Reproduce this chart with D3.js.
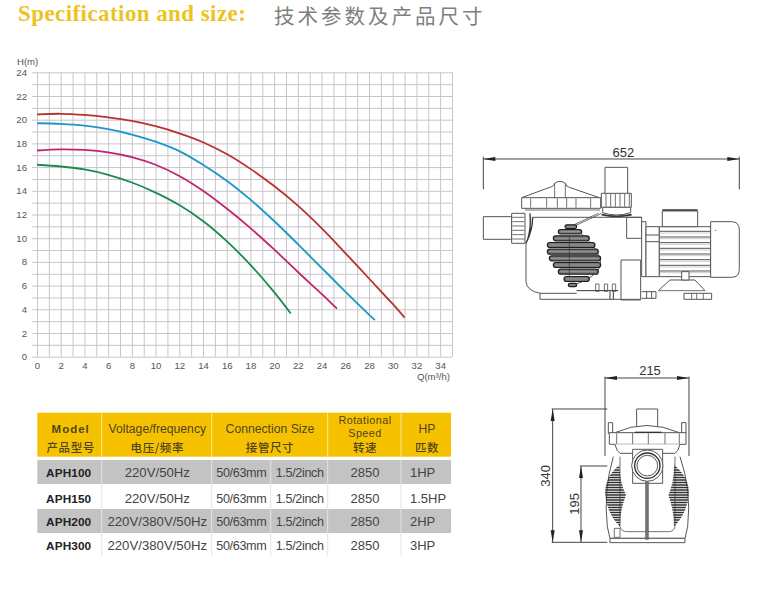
<!DOCTYPE html>
<html><head><meta charset="utf-8">
<script src="https://cdn.jsdelivr.net/npm/d3@7/dist/d3.min.js"></script>
<style>
html,body{margin:0;padding:0;background:#fff}
svg{display:block}
text{font-family:"Liberation Sans",Arial,sans-serif}
</style></head><body>
<svg id="c" width="780" height="590"></svg>
<script>
// ---------- DATA ----------
const titleEn = "Specification and size:";
const titleCn = "技术参数及产品尺寸";
const flowRed = [0,2,4,6,8,10,12,14,16,18,20,22,24,26,28,30,31];
const headRed = [20.45,20.5,20.4,20.2,19.9,19.45,18.85,18.1,17.1,15.85,14.4,12.75,10.85,8.75,6.6,4.45,3.3];
const flowBlue = [0,2,4,6,8,10,12,14,16,18,20,22,24,26,28,28.5];
const headBlue = [19.7,19.65,19.5,19.2,18.75,18.15,17.35,16.2,14.85,13.25,11.45,9.5,7.5,5.5,3.55,3.08];
const flowMagenta = [0,2,4,6,8,10,12,14,16,18,20,22,24,25.3];
const headMagenta = [17.4,17.5,17.45,17.25,16.85,16.2,15.25,14.0,12.5,10.85,9.05,7.15,5.3,4.05];
const flowGreen = [0,2,4,6,8,10,12,14,16,18,20,21.4];
const headGreen = [16.2,16.05,15.8,15.35,14.7,13.85,12.8,11.45,9.75,7.75,5.45,3.65];
const xTicks = d3.range(0,36);
const yTicks = d3.range(0,25);
const headerEn = [["Model"],["Voltage/frequency"],["Connection Size"],["Rotational","Speed"],["HP"]];
const headerCn = ["产品型号","电压/频率","接管尺寸","转速","匹数"];
const models = ["APH100","APH150","APH200","APH300"];
const voltages = ["220V/50Hz","220V/50Hz","220V/380V/50Hz","220V/380V/50Hz"];
const connMm = ["50/63mm","50/63mm","50/63mm","50/63mm"];
const connInch = ["1.5/2inch","1.5/2inch","1.5/2inch","1.5/2inch"];
const speeds = ["2850","2850","2850","2850"];
const powers = ["1HP","1.5HP","2HP","3HP"];
const dims = {length:"652",width:"215",height:"340",inlet:"195"};

// ---------- SETUP ----------
const svg = d3.select("#c");
svg.append("text").text(titleEn).attr("x",18).attr("y",21)
  .style("font-family","'Liberation Serif',serif").style("font-weight","bold")
  .style("font-size","22.9px").style("letter-spacing","0.47px").attr("fill","#edc31f");
svg.append("text").text(titleCn).attr("x",274).attr("y",24)
  .style("font-family","'Noto Sans CJK SC'").style("font-size","20.5px")
  .style("letter-spacing","3px").attr("fill","#7f7f7f");

// ---------- CHART ----------
const L=37,R=452,T=72.3,B=356.7;
const x = d3.scaleLinear().domain([0,35]).range([L,R]);
const y = d3.scaleLinear().domain([0,24]).range([B,T]);
const gy = svg.append("g").attr("transform",`translate(${R},0)`)
  .call(d3.axisLeft(y).tickValues(yTicks).tickSize(R-32).tickPadding(5)
    .tickFormat(d=>d%2===0?d:""));
const gx = svg.append("g").attr("transform",`translate(0,${T})`)
  .call(d3.axisBottom(x).tickValues(xTicks).tickSize(B-T).tickPadding(5)
    .tickFormat(d=>(d%2===0&&d<35)?d:""));
[gx,gy].forEach(g=>{
  g.select(".domain").remove();
  g.selectAll("line").attr("stroke","#c6c6ca").attr("stroke-width",1);
  g.selectAll("text").attr("fill","#555").style("font-size","9.6px")
   .style("font-family","'Liberation Sans'");
});
svg.append("text").text("H(m)").attr("x",17).attr("y",65).attr("fill","#555").style("font-size","9.6px");
svg.append("text").attr("x",450).attr("y",380).attr("text-anchor","end")
  .attr("fill","#555").style("font-size","9.6px").text("Q(m³/h)");

const line = d3.line().x(d=>x(d[0])).y(d=>y(d[1])).curve(d3.curveCatmullRom.alpha(0.5));
[[flowRed,headRed,"#b8322f"],[flowBlue,headBlue,"#1d96cb"],
 [flowMagenta,headMagenta,"#c4236f"],[flowGreen,headGreen,"#1c8a50"]].forEach(([f,h,c])=>{
  svg.append("path").datum(d3.zip(f,h)).attr("d",line).attr("fill","none")
    .attr("stroke",c).attr("stroke-width",1.8);
});

// ---------- TABLE ----------
const colX=[37.3,101.7,211.7,327.7,401,451];
const rowY=[460,484,509,533,556];
const t=svg.append("g");
t.append("rect").attr("x",colX[0]).attr("y",412.7).attr("width",colX[5]-colX[0]).attr("height",44).attr("fill","#f6c200");
[0,2].forEach(r=>t.append("rect").attr("x",colX[0]).attr("y",rowY[r]).attr("width",colX[5]-colX[0]).attr("height",rowY[r+1]-rowY[r]).attr("fill","#c3c3c3"));
colX.slice(1,5).forEach(v=>t.append("line").attr("x1",v).attr("x2",v).attr("y1",412.7).attr("y2",456.7).attr("stroke","#fff").attr("stroke-opacity",.6));
[colX[1],colX[2],270.7,colX[3],colX[4]].forEach(v=>{
  t.append("line").attr("x1",v).attr("x2",v).attr("y1",460).attr("y2",556).attr("stroke","#e4e4e4").attr("stroke-width",1);
});
const hCx=[70.7,157.3,270,365,427];
const hc="#4f4420";
headerEn.forEach((ls,i)=>{
  ls.forEach((s,j)=>{
    const e=t.append("text").text(s).attr("x",hCx[i]).attr("y",ls.length===2?[424.2,436.8][j]:433)
      .attr("text-anchor","middle").attr("fill",hc)
      .style("font-size",ls.length===2?"10.8px":"12.2px");
    if(ls.length===2) e.style("letter-spacing","0.45px");
    if(i===0) e.style("font-weight","bold").style("letter-spacing","1px").style("font-size","11.5px");
  });
  t.append("text").text(headerCn[i]).attr("x",hCx[i]).attr("y",451.5).attr("text-anchor","middle")
    .attr("fill",hc).style("font-family","'Noto Sans CJK SC'").style("font-size","11.5px")
    .style("letter-spacing","0.6px").style("font-weight","500");
});
const rowText=[476.8,502.8,525.5,550.2];
models.forEach((m,r)=>{
  const yy=rowText[r];
  const cell=(s,xx,anchor,size,bold,sp)=>{
    const e=t.append("text").text(s).attr("x",xx).attr("y",yy).attr("text-anchor",anchor)
      .attr("fill",bold?"#222":"#444").style("font-size",size+"px");
    if(bold) e.style("font-weight","bold").style("letter-spacing","0.1px");
    if(sp) e.style("letter-spacing",sp+"px");
  };
  cell(m,68.7,"middle",11.8,true);
  cell(voltages[r],157.3,"middle",13.2);
  cell(connMm[r],241.3,"middle",12.6,false,-0.35);
  cell(connInch[r],299.7,"middle",12.6,false,-0.35);
  cell(speeds[r],365,"middle",13);
  cell(powers[r],410,"start",13);
});

// ---------- DRAWING HELPERS ----------
const ink="#555";
function P(g,d,o={}){return g.append("path").attr("d",d).attr("fill",o.fill||"none")
  .attr("stroke",o.stroke||ink).attr("stroke-width",o.w||3);}
function Rc(g,a,b,c,d,o={}){return P(g,`M${a},${b}H${c}V${d}H${a}Z`,Object.assign({fill:"#fff"},o));}
function H(g,a,c,yy,o={}){return P(g,`M${a},${yy}H${c}`,o);}
function V(g,xx,b,d,o={}){return P(g,`M${xx},${b}V${d}`,o);}
function arrow(g,x0,y0,dx,dy){
  const nx=-dy*6,ny=dx*6;
  g.append("path").attr("d",`M${x0},${y0}L${x0+dx*36+nx},${y0+dy*36+ny}L${x0+dx*36-nx},${y0+dy*36-ny}Z`).attr("fill","#222");
}
function label(g,s,xx,yy,rot){
  const e=g.append("text").text(s).attr("text-anchor","middle").attr("fill","#333").style("font-size","39px");
  e.attr("transform",`translate(${xx},${yy})`+(rot?" rotate(-90)":""));
}

// ---------- SIDE VIEW (drawing units are 1/3 px) ----------
const s=svg.append("g").attr("transform","translate(470,130) scale(0.3333)");
H(s,40,808,87,{stroke:"#444"}); V(s,40,80,178,{stroke:"#444"}); V(s,808,80,178,{stroke:"#444"});
arrow(s,40,87,1,0); arrow(s,808,87,-1,0);
label(s,dims.length,460,80);
Rc(s,405,112,473,192);
Rc(s,394,190,484,232);
d3.range(408,484,14).forEach(v=>V(s,v,192,230,{w:2.5}));
P(s,"M398,232 H482 V248 Q440,262 398,248 Z",{fill:"#fff"});
P(s,"M395,254 Q440,264 485,254",{w:5,stroke:"#333"});
P(s,"M155,203 L245,170 Q252,168 254,160 Q270,148 286,160 Q288,170 298,172 L388,203",{fill:"#fff"});
Rc(s,155,203,392,235);
[182,230,262,290,318,362].forEach(v=>V(s,v,205,233,{w:2.5}));
P(s,"M254,160 V205 M286,160 V205",{w:2.5});
H(s,165,390,240,{w:2.5});
P(s,"M188,262 H515 M168,338 V455 Q170,482 210,490 H320 M210,490 V508 H510",{});
P(s,"M168,340 Q188,300 188,262 M172,332 Q184,295 180,250",{w:4,stroke:"#333"});
P(s,"M300,290 L385,250 M310,290 L395,250",{w:2.5});
Rc(s,470,262,515,325,{fill:"none"});
Rc(s,453,390,512,510,{fill:"none"});
Rc(s,40,260,125,328);
Rc(s,125,250,165,340);
d3.range(262,340,13).forEach(v=>H(s,127,163,v,{w:2.5}));
P(s,"M300,285 Q392,350 392,405 Q385,440 300,470",{w:3});
[[285,320,290,11],[265,335,305,13],[250,358,325,15],[232,375,345,15],[232,385,365,15],
 [238,392,385,15],[250,392,405,15],[265,385,425,15],[282,358,447,15],[295,320,465,10]].forEach(([a,b,c,h])=>{
  s.append("rect").attr("x",a).attr("y",c-h/2).attr("width",b-a).attr("height",h).attr("rx",h/2)
    .attr("fill","#777").attr("stroke","#1e1e1e").attr("stroke-width",3.5);
  H(s,a+6,b-6,c,{w:1.5,stroke:"#bbb"});
});
V(s,298,320,440,{w:2,stroke:"#333"});
[382,408,432].forEach(v=>{Rc(s,v-5,462,v+5,484,{fill:"#fff",w:2.5});});
P(s,"M320,482 H445 M420,484 V508 M430,484 V508",{w:3,stroke:"#333"});
Rc(s,515,275,528,440);
Rc(s,528,290,568,440);
H(s,528,568,335,{w:3});H(s,528,568,315,{w:3});
Rc(s,568,290,722,440);
d3.range(304,440,17).forEach(v=>{H(s,570,722,v,{w:3});H(s,570,722,v+5,{w:1.5,stroke:"#999"});});
Rc(s,577,243,683,290);
H(s,577,683,240,{w:4,stroke:"#333"});
P(s,"M722,275 H785 Q808,275 808,300 V418 Q808,442 785,442 H722 Z",{fill:"#fff"});
s.append("circle").attr("cx",736).attr("cy",301).attr("r",2).attr("fill","#555");
P(s,"M565,482 L600,450 H675 L705,482",{fill:"#fff"});
Rc(s,635,425,657,450);
Rc(s,642,490,725,508);
[665,680,700].forEach(v=>V(s,v,490,508,{w:2.5}));
H(s,565,705,482,{w:2.5});
P(s,"M515,485 H558 V505 H515 M530,485 V505 M545,485 V505",{w:3});

// ---------- FRONT VIEW ----------
const f=svg.append("g").attr("transform","translate(520,350) scale(0.3333)");
H(f,255,507,84,{stroke:"#444"}); V(f,255,80,318,{stroke:"#444"}); V(f,507,80,318,{stroke:"#444"});
arrow(f,255,84,1,0); arrow(f,507,84,-1,0);
label(f,dims.width,390,75);
V(f,98,177,577,{stroke:"#444"}); H(f,95,262,177,{stroke:"#444"}); H(f,95,262,577,{stroke:"#444"});
arrow(f,98,177,0,1); arrow(f,98,577,0,-1);
label(f,dims.height,91,378,true);
V(f,183,348,577,{stroke:"#444"}); H(f,180,262,348,{stroke:"#444"});
arrow(f,183,348,0,1); arrow(f,183,577,0,-1);
label(f,dims.inlet,176,462,true);
Rc(f,350,177,413,235);
Rc(f,265,218,278,250,{});Rc(f,485,218,498,250,{});
P(f,"M285,248 Q380,205 478,248",{fill:"#fff"});
Rc(f,268,248,498,283);
[290,338,385,435,478].forEach(v=>V(f,v,250,282,{w:2.5}));
H(f,345,425,247,{w:4,stroke:"#333"});
P(f,"M285,283 Q290,305 300,310 H465 Q475,305 480,283",{fill:"#fff"});
P(f,"M280,320 Q250,420 262,530 L270,565 H495 L503,530 Q515,420 480,320",{fill:"#fff"});
Rc(f,270,565,495,578);
P(f,"M300,320 V530 Q305,545 320,545 H445 Q462,545 465,530 V320",{w:2.5});
Rc(f,283,535,300,562,{w:2.5});
const defs=svg.append("defs");
defs.append("clipPath").attr("id","fl").append("path").attr("d","M298,345 Q255,380 255,430 Q260,490 300,530 Q300,480 318,435 Q300,400 298,345 Z");
defs.append("clipPath").attr("id","fr").append("path").attr("d","M462,345 Q507,380 507,430 Q502,490 462,530 Q462,480 445,435 Q462,400 462,345 Z");
[["fl",250,320],["fr",440,510]].forEach(([id,a,b])=>{
  const g=f.append("g").attr("clip-path",`url(#${id})`);
  d3.range(345,532,7.5).forEach(v=>H(g,a,b,v,{w:5,stroke:"#2e2e2e"}));
});
Rc(f,338,298,428,400);
f.append("circle").attr("cx",382).attr("cy",347).attr("r",47).attr("fill","#fff").attr("stroke",ink).attr("stroke-width",3);
f.append("circle").attr("cx",382).attr("cy",347).attr("r",38).attr("fill","#fff").attr("stroke","#333").attr("stroke-width",4);
f.append("circle").attr("cx",382).attr("cy",347).attr("r",31).attr("fill","#fff").attr("stroke",ink).attr("stroke-width",3);
Rc(f,377,395,385,568,{fill:"#777",w:2});
</script>
</body></html>
